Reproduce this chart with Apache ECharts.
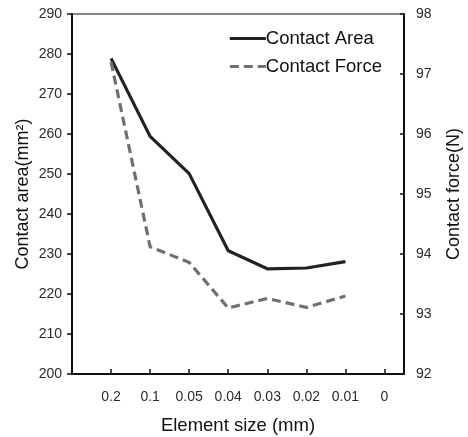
<!DOCTYPE html>
<html>
<head>
<meta charset="utf-8">
<script src="https://cdn.jsdelivr.net/npm/echarts@6/dist/echarts.min.js"></script>
<style>
  html, body { margin: 0; padding: 0; background: #fff; }
</style>
</head>
<body>
<div id="main" style="width:468px;height:437px;"></div>
<script>
// element sizes on the x axis (last one has no data)
var sizeLabels = ['0.2', '0.1', '0.05', '0.04', '0.03', '0.02', '0.01', '0'];
var contactArea = [278.9, 259.4, 250.1, 230.8, 226.3, 226.5, 228.1];
var contactForce = [97.2, 94.12, 93.86, 93.1, 93.26, 93.11, 93.3];

var font = 'Liberation Sans, Arial, sans-serif';
var txt = '#2b2b2b';

function toPoints(arr) {
  var out = [];
  for (var i = 0; i < arr.length; i++) {
    out.push([i, arr[i]]);
  }
  return out;
}

var chart = echarts.init(document.getElementById('main'));
var option = {
  animation: false,
  backgroundColor: '#fff',
  grid: {
    left: 72, right: 64, top: 14, bottom: 63,
    outerBoundsMode: 'none',
    show: true, borderColor: '#111', borderWidth: 1.2
  },
  legend: {
    right: 81,
    top: 24,
    orient: 'vertical',
    itemWidth: 36,
    itemHeight: 14,
    itemGap: 9,
    itemStyle: { opacity: 0 },
    lineStyle: { width: 3.2 },
    textStyle: { fontFamily: font, fontSize: 18.5, color: '#111', padding: [0, 0, 0, -5] },
    data: ['Contact Area', 'Contact Force']
  },
  xAxis: {
    type: 'value',
    min: -1,
    max: 7.5,
    interval: 1,
    name: 'Element size (mm)',
    nameLocation: 'middle',
    nameGap: 42,
    nameTextStyle: { fontFamily: font, fontSize: 18.5, color: '#111' },
    axisLine: { onZero: false, lineStyle: { color: '#111', width: 2 } },
    axisTick: { inside: true, length: 5, lineStyle: { color: '#111', width: 1.5 } },
    splitLine: { show: false },
    axisLabel: {
      margin: 16,
      fontFamily: font, fontSize: 14, color: txt,
      formatter: function (v) {
        return (v >= 0 && v === Math.round(v)) ? sizeLabels[v] : '';
      }
    }
  },
  yAxis: [
    {
      type: 'value',
      min: 200, max: 290, interval: 10,
      name: 'Contact area(mm²)',
      nameLocation: 'middle',
      nameGap: 40,
      nameMoveOverlap: false,
      nameTextStyle: { fontFamily: font, fontSize: 18, color: '#111' },
      axisLine: { show: true, onZero: false, lineStyle: { color: '#111', width: 2 } },
      axisTick: { show: true, length: 5, lineStyle: { color: '#111', width: 1.5 } },
      splitLine: { show: false },
      axisLabel: { margin: 10, fontFamily: font, fontSize: 14, color: txt }
    },
    {
      type: 'value',
      min: 92, max: 98, interval: 1,
      name: 'Contact force(N)',
      nameLocation: 'middle',
      nameGap: 41,
      nameRotate: 90,
      nameTextStyle: { fontFamily: font, fontSize: 18, color: '#111' },
      axisLine: { show: true, onZero: false, lineStyle: { color: '#111', width: 2 } },
      axisTick: { show: true, inside: true, length: 4, lineStyle: { color: '#111', width: 1.5 } },
      splitLine: { show: false },
      axisLabel: { margin: 12, fontFamily: font, fontSize: 14, color: txt }
    }
  ],
  series: [
    {
      name: 'Contact Area',
      type: 'line',
      yAxisIndex: 0,
      symbol: 'none',
      data: toPoints(contactArea),
      itemStyle: { color: '#222' },
      lineStyle: { color: '#222', width: 3.2 }
    },
    {
      name: 'Contact Force',
      type: 'line',
      yAxisIndex: 1,
      symbol: 'none',
      data: toPoints(contactForce),
      itemStyle: { color: '#707070' },
      lineStyle: { color: '#707070', width: 3.2, type: [9, 5] }
    }
  ]
};
chart.setOption(option);
</script>
</body>
</html>
